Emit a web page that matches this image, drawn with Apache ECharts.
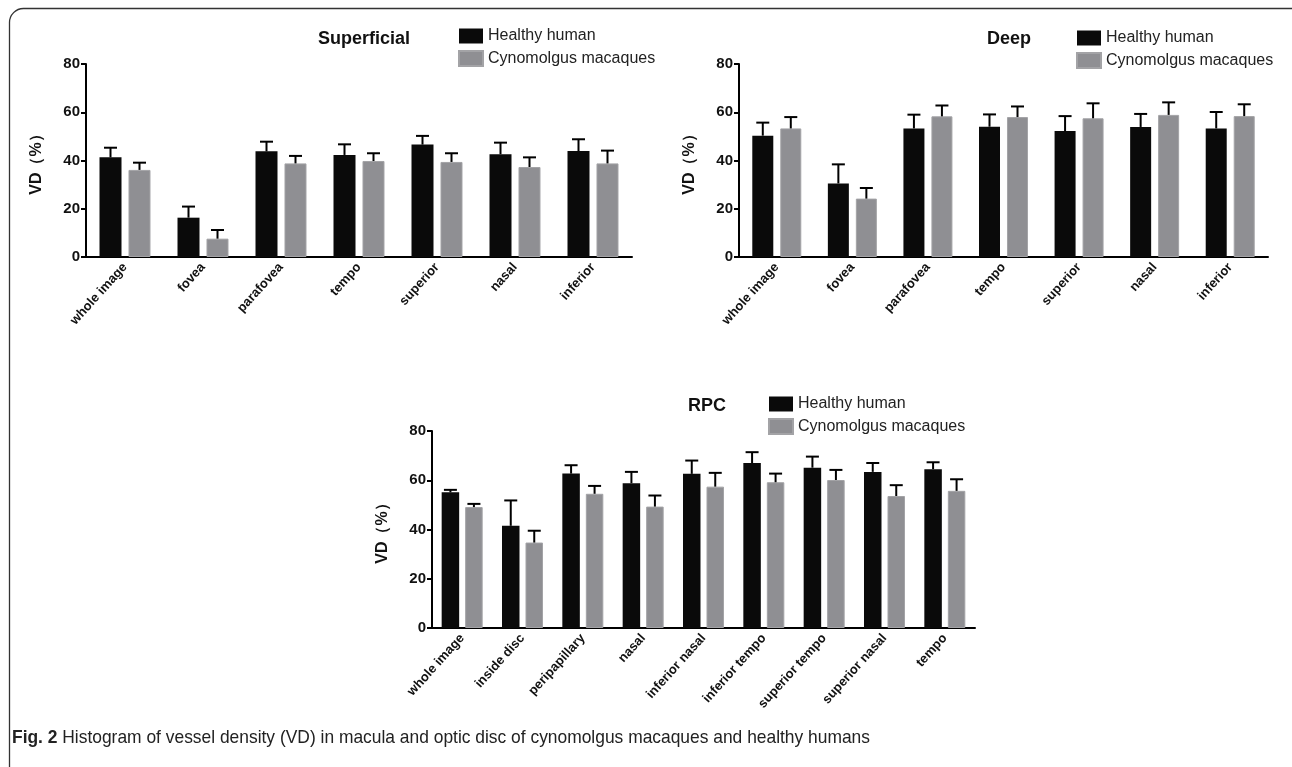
<!DOCTYPE html>
<html>
<head>
<meta charset="utf-8">
<script src="https://cdn.jsdelivr.net/npm/echarts@6/dist/echarts.min.js"></script>
<style>
html,body{margin:0;padding:0;background:#fff;}
#c{width:1292px;height:767px;}
</style>
</head>
<body>
<div id="c"></div>
<script>
// ---- data ----
const macCats = ['whole image', 'fovea', 'parafovea', 'tempo', 'superior', 'nasal', 'inferior'];
const rpcCats = ['whole image', 'inside disc', 'peripapillary', 'nasal', 'inferior nasal', 'inferior tempo', 'superior tempo', 'superior nasal', 'tempo'];
const seriesNames = ['Healthy human', 'Cynomolgus macaques'];
const yTicks = [0, 20, 40, 60, 80];

const supHuman = [41.3, 16.3, 43.8, 42.3, 46.6, 42.6, 43.9];
const supHumanSD = [4.0, 4.6, 4.0, 4.4, 3.6, 4.8, 4.9];
const supMacaque = [36.1, 7.6, 38.8, 39.8, 39.4, 37.3, 38.8];
const supMacaqueSD = [3.0, 3.6, 3.1, 3.2, 3.6, 4.0, 5.3];

const deepHuman = [50.3, 30.5, 53.3, 54.0, 52.2, 53.9, 53.3];
const deepHumanSD = [5.4, 7.9, 5.7, 5.1, 6.2, 5.4, 6.8];
const deepMacaque = [53.3, 24.2, 58.3, 58.0, 57.5, 58.9, 58.4];
const deepMacaqueSD = [4.7, 4.4, 4.5, 4.4, 6.2, 5.2, 4.9];

const rpcHuman = [55.1, 41.5, 62.7, 58.8, 62.6, 67.0, 65.1, 63.4, 64.5];
const rpcHumanSD = [1.0, 10.3, 3.4, 4.6, 5.4, 4.4, 4.5, 3.6, 2.8];
const rpcMacaque = [49.1, 34.7, 54.5, 49.3, 57.4, 59.2, 60.1, 53.6, 55.7];
const rpcMacaqueSD = [1.3, 4.8, 3.2, 4.5, 5.6, 3.5, 4.1, 4.4, 4.7];

const titles = ['Superficial', 'Deep', 'RPC'];
const yName = 'VD（%）';
const captionBold = 'Fig. 2';
const caption = 'Histogram of vessel density (VD) in macula and optic disc of cynomolgus macaques and healthy humans';

// ---- styling / layout ----
const FONT = 'Liberation Sans, Arial, sans-serif';
const BLACK = '#0a0a0a';
const GRAY = '#8f8f93';
const panels = [
  {grid: {left: 86, top: 64, width: 546, height: 193}, cats: macCats, h: supHuman, hs: supHumanSD, m: supMacaque, ms: supMacaqueSD, bw: 22, gap: 7, title: {left: 313, top: 25}, legend: {left: 453, top: 23}},
  {grid: {left: 739, top: 64, width: 529, height: 193}, cats: macCats, h: deepHuman, hs: deepHumanSD, m: deepMacaque, ms: deepMacaqueSD, bw: 21, gap: 7, title: {left: 982, top: 25}, legend: {left: 1071, top: 25}},
  {grid: {left: 432, top: 431, width: 543, height: 197}, cats: rpcCats, h: rpcHuman, hs: rpcHumanSD, m: rpcMacaque, ms: rpcMacaqueSD, bw: 17.5, gap: 6, title: {left: 683, top: 392}, legend: {left: 763, top: 391}}
];

function errSeries(pi, vals, sds, offset) {
  return {
    type: 'custom', xAxisIndex: pi, yAxisIndex: pi, z: 5, silent: true,
    data: vals.map((v, i) => [i, v, sds[i]]),
    renderItem: function (params, api) {
      const i = api.value(0), v = api.value(1), s = api.value(2);
      const base = api.coord([i, v]);
      const top = api.coord([i, v + s]);
      const x = base[0] + offset;
      const cap = 6.5;
      return {
        type: 'group',
        children: [
          {type: 'line', shape: {x1: x, y1: base[1], x2: x, y2: top[1]}, style: {stroke: '#000', lineWidth: 2}},
          {type: 'line', shape: {x1: x - cap, y1: top[1], x2: x + cap, y2: top[1]}, style: {stroke: '#000', lineWidth: 2}}
        ]
      };
    }
  };
}

const grids = [], xAxes = [], yAxes = [], series = [], titleArr = [], legends = [];
panels.forEach((p, pi) => {
  grids.push(p.grid);
  xAxes.push({
    type: 'category', gridIndex: pi, data: p.cats,
    axisLine: {lineStyle: {color: '#000', width: 2}},
    axisTick: {alignWithLabel: true, length: 6, lineStyle: {color: '#000', width: 2}},
    axisLabel: {rotate: 48, interval: 0, margin: 8, color: '#111', fontFamily: FONT, fontWeight: 'bold', fontSize: 13},
    splitLine: {show: false}
  });
  yAxes.push({
    type: 'value', gridIndex: pi, min: yTicks[0], max: yTicks[yTicks.length - 1], interval: yTicks[1] - yTicks[0],
    name: yName, nameLocation: 'middle', nameGap: 41, nameRotate: 90,
    nameTextStyle: {fontFamily: FONT, fontWeight: 'bold', fontSize: 16, color: '#111'},
    axisLine: {show: true, lineStyle: {color: '#000', width: 2}},
    axisTick: {show: true, length: 5, lineStyle: {color: '#000', width: 2}},
    axisLabel: {margin: 6, color: '#111', fontFamily: FONT, fontWeight: 'bold', fontSize: 15},
    splitLine: {show: false}
  });
  const gapPct = (p.gap / p.bw * 100).toFixed(1) + '%';
  series.push({name: seriesNames[0], type: 'bar', xAxisIndex: pi, yAxisIndex: pi, data: p.h, barWidth: p.bw, barGap: gapPct, itemStyle: {color: BLACK}, silent: true});
  series.push({name: seriesNames[1], type: 'bar', xAxisIndex: pi, yAxisIndex: pi, data: p.m, barWidth: p.bw, barGap: gapPct, itemStyle: {color: GRAY, borderColor: '#a3a3a6', borderWidth: 1}, silent: true});
  const off = (p.bw + p.gap) / 2;
  series.push(errSeries(pi, p.h, p.hs, -off));
  series.push(errSeries(pi, p.m, p.ms, off));
  titleArr.push({text: titles[pi], left: p.title.left, top: p.title.top, textStyle: {fontFamily: FONT, fontWeight: 'bold', fontSize: 18, color: '#111'}});
  legends.push({
    data: seriesNames.map(n => ({name: n, icon: 'rect'})), orient: 'vertical', left: p.legend.left, top: p.legend.top,
    itemWidth: 24, itemHeight: 15, itemGap: 6, selectedMode: false,
    textStyle: {fontFamily: FONT, fontSize: 16, color: '#222'}
  });
});

// caption: scale horizontally to the condensed width of the original
const capFont = '19px Liberation Sans, Arial, sans-serif';
const capBoldFont = 'bold 19px Liberation Sans, Arial, sans-serif';
const ctx = document.createElement('canvas').getContext('2d');
ctx.font = capBoldFont; const wb = ctx.measureText(captionBold + ' ').width;
ctx.font = capFont; const wn = ctx.measureText(caption).width;
const capScale = 858 / (wb + wn);

const chart = echarts.init(document.getElementById('c'), null, {renderer: 'canvas'});
chart.setOption({
  backgroundColor: '#fff',
  animation: false,
  title: titleArr,
  legend: legends,
  grid: grids,
  xAxis: xAxes,
  yAxis: yAxes,
  series: series,
  graphic: [
    {type: 'rect', shape: {x: 9.5, y: 8.5, width: 1300, height: 800, r: 14}, style: {fill: 'none', stroke: '#333', lineWidth: 1.3}, silent: true},
    {type: 'text', x: 12, y: 738, scaleX: capScale, style: {
      text: '{b|' + captionBold + '} ' + caption,
      font: capFont, fill: '#222', verticalAlign: 'middle',
      rich: {b: {fontFamily: 'Liberation Sans, Arial, sans-serif', fontWeight: 'bold', fontSize: 19, fill: '#222'}}
    }}
  ]
});
</script>
</body>
</html>
